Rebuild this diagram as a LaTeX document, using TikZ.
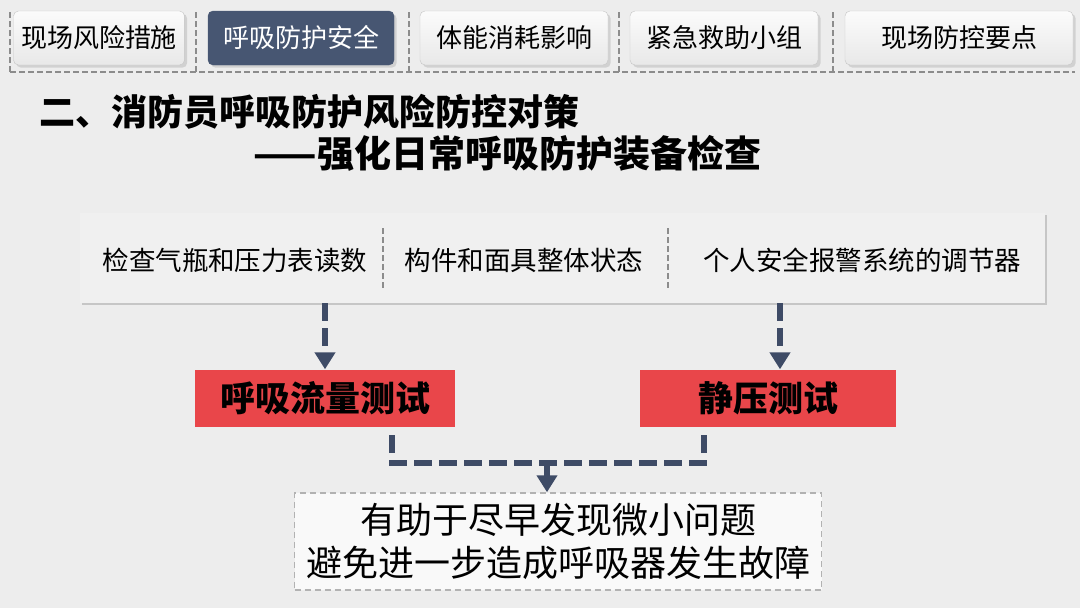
\documentclass[tikz,border=0pt]{standalone}
\usepackage{fontspec}
\setmainfont{Noto Sans CJK SC}
\usepackage{xcolor}
\usetikzlibrary{positioning,calc,shadows,arrows.meta}

\definecolor{pagebg}{HTML}{EDEDED}
\definecolor{navy}{HTML}{475672}
\definecolor{linkblue}{HTML}{3E4B66}
\definecolor{alarmred}{HTML}{E9464A}
\definecolor{panelgray}{HTML}{F0F0F0}
\definecolor{sepgray}{HTML}{8C8C8C}

\begin{document}
\begin{tikzpicture}[
    x=1pt, y=-1pt,
    tab/.style={rectangle, draw=gray!45, rounded corners=5pt, top color=white!97!gray,
        bottom color=gray!18, minimum height=54pt, text=black,
        font=\fontsize{26}{28}\selectfont, drop shadow={opacity=0.25}},
    tabon/.style={tab, draw=navy, top color=navy, bottom color=navy, text=white},
    sep/.style={draw=sepgray, line width=2pt, dash pattern=on 6pt off 3pt},
    panel/.style={rectangle, fill=panelgray, minimum width=965pt, minimum height=90pt,
        drop shadow={shadow xshift=2pt, shadow yshift=-2pt, opacity=0.35}},
    item/.style={font=\fontsize{26.5}{28}\selectfont},
    testbox/.style={rectangle, fill=alarmred, minimum height=57pt,
        font=\fontsize{35}{40}\selectfont\bfseries},
    resultbox/.style={rectangle, draw=gray!60, line width=1.5pt, dash pattern=on 6pt off 4pt,
        fill=white!60!panelgray, minimum width=527pt, minimum height=97pt, align=center,
        font=\fontsize{36}{43}\selectfont},
    link/.style={draw=linkblue, line width=6pt, dash pattern=on 18pt off 7pt},
    arrow/.style={link, -{Triangle[length=17pt,width=20pt]}}
]
    % background
    \fill[pagebg] (0,0) rectangle (1080,608);

    % Tabs
    \node[tab, minimum width=171pt] (t1) at (99,38) {现场风险措施};
    \node[tabon, minimum width=186pt] (t2) at (301,38) {呼吸防护安全};
    \node[tab, minimum width=188pt] (t3) at (514,38) {体能消耗影响};
    \node[tab, minimum width=188pt] (t4) at (724,38) {紧急救助小组};
    \node[tab, minimum width=228pt] (t5) at (959,38) {现场防控要点};
    \foreach \sx in {10,196,409,619,833}
        \draw[sep] (\sx,12) -- (\sx,72);
    \draw[sep] (10,72) -- (1075,72);

    % Title
    \node[anchor=west, font=\fontsize{36}{40}\selectfont\bfseries] (title) at (36,112)
        {二、消防员呼吸防护风险防控对策};
    \node[anchor=east, font=\fontsize{37}{40}\selectfont\bfseries] (subtitle) at (765,153)
        {——强化日常呼吸防护装备检查};

    % Check panel
    \node[panel] (check) at (562.5,258) {};
    \node[item] (cyl) at (235,260) {检查气瓶和压力表读数};
    \node[item] (mask) at (524,260) {构件和面具整体状态};
    \node[item] (alarm) at (862,260) {个人安全报警系统的调节器};
    \draw[sep] (383,228) -- (383,290);
    \draw[sep] (668,228) -- (668,290);

    % Tests
    \node[testbox, minimum width=260pt] (flow) at (325,398) {呼吸流量测试};
    \node[testbox, minimum width=256pt] (static) at (768,398) {静压测试};
    \coordinate (rarm) at (780,303);

    \draw[arrow] (check.south -| flow.north) -- (flow.north);
    \draw[arrow] (rarm) -- (rarm |- static.north);

    % Result
    \node[resultbox] (result) at (558,541.5) {有助于尽早发现微小问题\\避免进一步造成呼吸器发生故障};

    % Merge connector
    \coordinate (jl) at (392,435);
    \coordinate (jr) at (704,435);
    \coordinate (jm) at (547,463);
    \draw[link] (jl) |- (jm) -| (jr);
    \draw[arrow] (jm) -- (jm |- result.north);
\end{tikzpicture}
\end{document}
